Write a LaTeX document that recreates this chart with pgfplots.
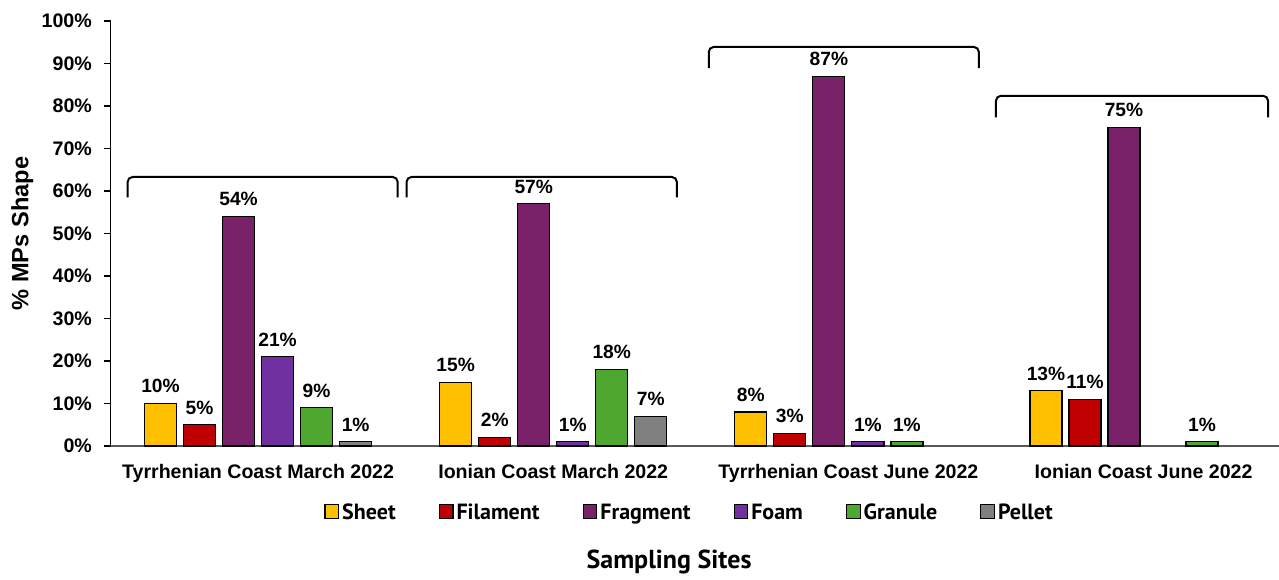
\documentclass[border=0pt]{standalone}
\usepackage{fontspec}
\setmainfont{Liberation Sans}
\newfontfamily\legfont{PT Sans}
\usepackage{pgfplots}
\pgfplotsset{compat=1.18}
\definecolor{cSheet}{HTML}{FFC000}
\definecolor{cFil}{HTML}{C00000}
\definecolor{cFrag}{HTML}{782068}
\definecolor{cFoam}{HTML}{7030A0}
\definecolor{cGran}{HTML}{4EA72E}
\definecolor{cPel}{HTML}{808080}
\pgfplotsset{
  mybar/.style={ybar, bar width=0.1085, bar shift=0pt, draw=black, line width=0.6pt, fill=#1,
    legend image code/.code={\draw[fill=#1,draw=black,line width=0.6pt] (0pt,-2.6pt) rectangle (6.8pt,4.2pt);},
    nodes near coords={\pgfmathprintnumber{\pgfplotspointmeta}\%},
    every node near coord/.append style={font=\bfseries\fontsize{9.6}{11}\selectfont, anchor=south, yshift=1.6pt, black}},
}
\begin{document}
\begin{tikzpicture}
\useasboundingbox (0,0) rectangle (639.5pt,289.5pt);
\begin{axis}[
  at={(55.25pt,66.5pt)}, anchor=south west,
  scale only axis, width=584.25pt, height=212.5pt,
  xmin=-0.5, xmax=3.459, ymin=0, ymax=100,
  clip=false,
  axis x line=bottom, axis y line=left,
  x axis line style={-, draw=black!65, line width=0.8pt},
  y axis line style={-, draw=black, line width=0.8pt},
  xtick={0,1,2,3},
  xticklabels={Tyrrhenian Coast March 2022, Ionian Coast March 2022, Tyrrhenian Coast June 2022, Ionian Coast June 2022},
  xtick style={draw=none},
  ytick={0,10,...,100},
  yticklabel={\pgfmathprintnumber{\tick}\%},
  ytick style={draw=black, line width=0.8pt},
  tick align=outside, major tick length=3pt,
  /pgf/number format/assume math mode=true,
  every tick label/.append style={font=\bfseries\fontsize{9.8}{11}\selectfont, black},
  xticklabel style={yshift=-2.5pt},
  yticklabel style={xshift=-2.8pt},
  ylabel={\% MPs Shape},
  ylabel style={at={(axis description cs:-0.0755,0.5)}, rotate=0, anchor=center, font=\bfseries\fontsize{11.8}{13}\selectfont},
  xlabel={Sampling Sites},
  xlabel style={at={(axis description cs:0.478,-0.274)}, anchor=center, font=\legfont\bfseries\fontsize{13}{15}\selectfont},
  legend columns=6,
  legend style={draw=none, fill=none, at={(axis description cs:0.496,-0.158)}, anchor=center,
    font=\legfont\bfseries\fontsize{11}{13}\selectfont,
    /tikz/every even column/.append style={column sep=20pt},
    nodes={inner sep=1.5pt}},
]
\addplot[mybar=cSheet] coordinates {(-0.3305,10) (0.6695,15) (1.6695,8) (2.6695,13)};
\addlegendentry{Sheet}
\addplot[mybar=cFil] coordinates {(-0.1983,5) (0.8017,2) (1.8017,3) (2.8017,11)};
\addlegendentry{Filament}
\addplot[mybar=cFrag] coordinates {(-0.0661,54) (0.9339,57) (1.9339,87) (2.9339,75)};
\addlegendentry{Fragment}
\addplot[mybar=cFoam] coordinates {(0.0661,21) (1.0661,1) (2.0661,1)};
\addlegendentry{Foam}
\addplot[mybar=cGran] coordinates {(0.1983,9) (1.1983,18) (2.1983,1) (3.1983,1)};
\addlegendentry{Granule}
\addplot[mybar=cPel] coordinates {(0.3305,1) (1.3305,7)};
\addlegendentry{Pellet}
\draw[rounded corners=2.5pt, line width=1pt] (axis cs:-0.442,58.5) -- (axis cs:-0.442,63.3) -- (axis cs:0.473,63.3) -- (axis cs:0.473,58.5);
\draw[rounded corners=2.5pt, line width=1pt] (axis cs:0.503,58.5) -- (axis cs:0.503,63.3) -- (axis cs:1.419,63.3) -- (axis cs:1.419,58.5);
\draw[rounded corners=2.5pt, line width=1pt] (axis cs:1.527,88.9) -- (axis cs:1.527,93.9) -- (axis cs:2.442,93.9) -- (axis cs:2.442,88.9);
\draw[rounded corners=2.5pt, line width=1pt] (axis cs:2.500,77.3) -- (axis cs:2.500,82.4) -- (axis cs:3.422,82.4) -- (axis cs:3.422,77.3);
\end{axis}
\end{tikzpicture}
\end{document}
